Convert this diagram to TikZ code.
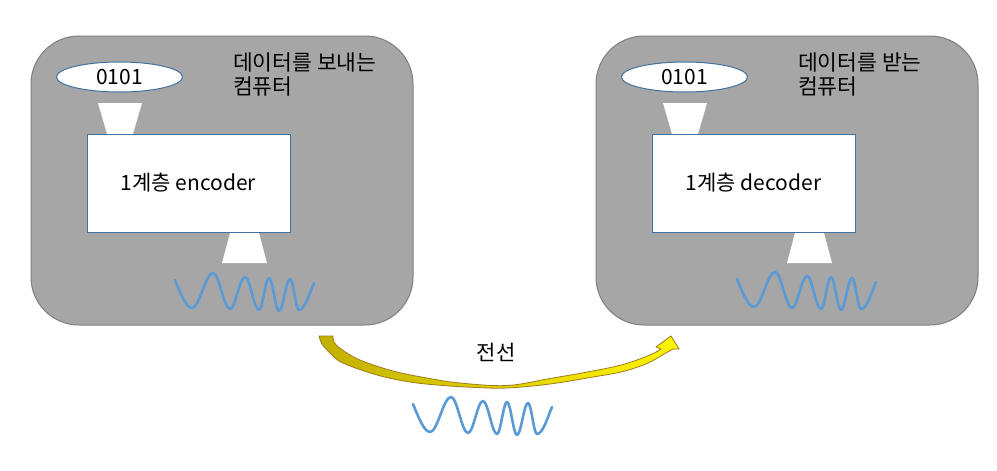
\documentclass[tikz,border=0pt]{standalone}
\usepackage{fontspec}
\setmainfont{Noto Sans CJK KR}
\usetikzlibrary{shapes.geometric}
\definecolor{boxgray}{HTML}{A6A6A6}
\definecolor{boxedge}{HTML}{7F7F7F}
\definecolor{shapeedge}{HTML}{41719C}
\definecolor{wavecol}{HTML}{5B9BD5}
\definecolor{arrowdark}{HTML}{C2B000}
\definecolor{arrowmid}{HTML}{EAD800}
\definecolor{arrowlight}{HTML}{FFF500}
\definecolor{arrowedge}{HTML}{A27A1E}
\tikzset{
  compbox/.style={draw=boxedge, line width=1pt, fill=boxgray, rounded corners=48pt,
    minimum width=382pt, minimum height=289pt, inner sep=0pt},
  dataell/.style={ellipse, draw=shapeedge, line width=1pt, fill=white,
    minimum width=126pt, minimum height=30pt, inner sep=0pt},
  layerbox/.style={rectangle, draw=shapeedge, line width=1pt, fill=white,
    minimum width=203pt, minimum height=98pt, inner sep=0pt},
  titletext/.style={anchor=north west, align=left, inner sep=0pt,
    font=\fontsize{21.5}{24}\selectfont},
  wavestyle/.style={draw=wavecol, line width=2.6pt, line cap=round, line join=round},
  funnel/.style={fill=white},
}
\newcommand{\wavedraw}[1]{%
  \draw[wavestyle, shift={#1}] (0,0) .. controls (5,12) and (11,28) .. (17,28)
    cos (27.5,10.5) sin (38,-7)
    cos (46.5,11) sin (55,29)
    cos (62.5,13) sin (70,-3)
    cos (77,13.5) sin (84,30)
    cos (89,14) sin (94,-2)
    cos (99,14.5) sin (104,31)
    cos (109.5,15) sin (115,-1)
    cos (119.5,14.5) sin (124,30)
    .. controls (130,30) and (135,12) .. (139,3);}
\begin{document}
\begin{tikzpicture}[x=1pt, y=-1pt, font=\fontsize{21}{24}\selectfont]
\useasboundingbox (0,0) rectangle (997,471);
\fill[white] (0,0) rectangle (997,471);

% ---------- left computer ----------
\node[compbox] (lbox) at (222,180.5) {};
\node[titletext] (ltitle) at (233,53) {데이터를 보내는\\컴퓨터};
\node[dataell] (ldata) at (119.5,77) {0101};
\fill[funnel] (98,103) -- (142,103) -- (133,134) -- (107,134) -- cycle;
\node[layerbox] (lenc) at (188.5,183) {1계층 encoder};
\fill[funnel] (230,233) -- (259,233) -- (267,263) -- (222,263) -- cycle;
\wavedraw{(175,280)}

% ---------- right computer ----------
\node[compbox] (rbox) at (787,180.5) {};
\node[titletext] (rtitle) at (798,53) {데이터를 받는\\컴퓨터};
\node[dataell] (rdata) at (684.5,77) {0101};
\fill[funnel] (663,103) -- (707,103) -- (698,134) -- (672,134) -- cycle;
\node[layerbox] (rdec) at (753.5,183) {1계층 decoder};
\fill[funnel] (795,233) -- (824,233) -- (832,263) -- (787,263) -- cycle;
\wavedraw{(737,279)}

% ---------- wire ----------
\draw[draw=arrowedge, line width=0.8pt, left color=arrowdark, middle color=arrowmid, right color=arrowlight]
  plot[smooth, tension=0.6] coordinates {(319,336) (322,344) (330,353) (343,363) (377,375)
     (410,382) (443,385.5) (477,387.5) (507,388) (550,384) (590,377.5) (623,371.5) (648,363) (664,354) (673,349)}
  -- (679,349) -- (671,336) -- (656,347) -- (661,349)
  -- plot[smooth, tension=0.6] coordinates {(661,349) (650,355) (623,364.5) (590,371.5) (550,378.5) (507,385.5)
     (460,383) (427,378) (393,371) (360,360) (341,349) (334,342) (333,336)}
  -- cycle;
\node (wire) at (496,352) {전선};
\wavedraw{(413,404)}
\end{tikzpicture}
\end{document}
